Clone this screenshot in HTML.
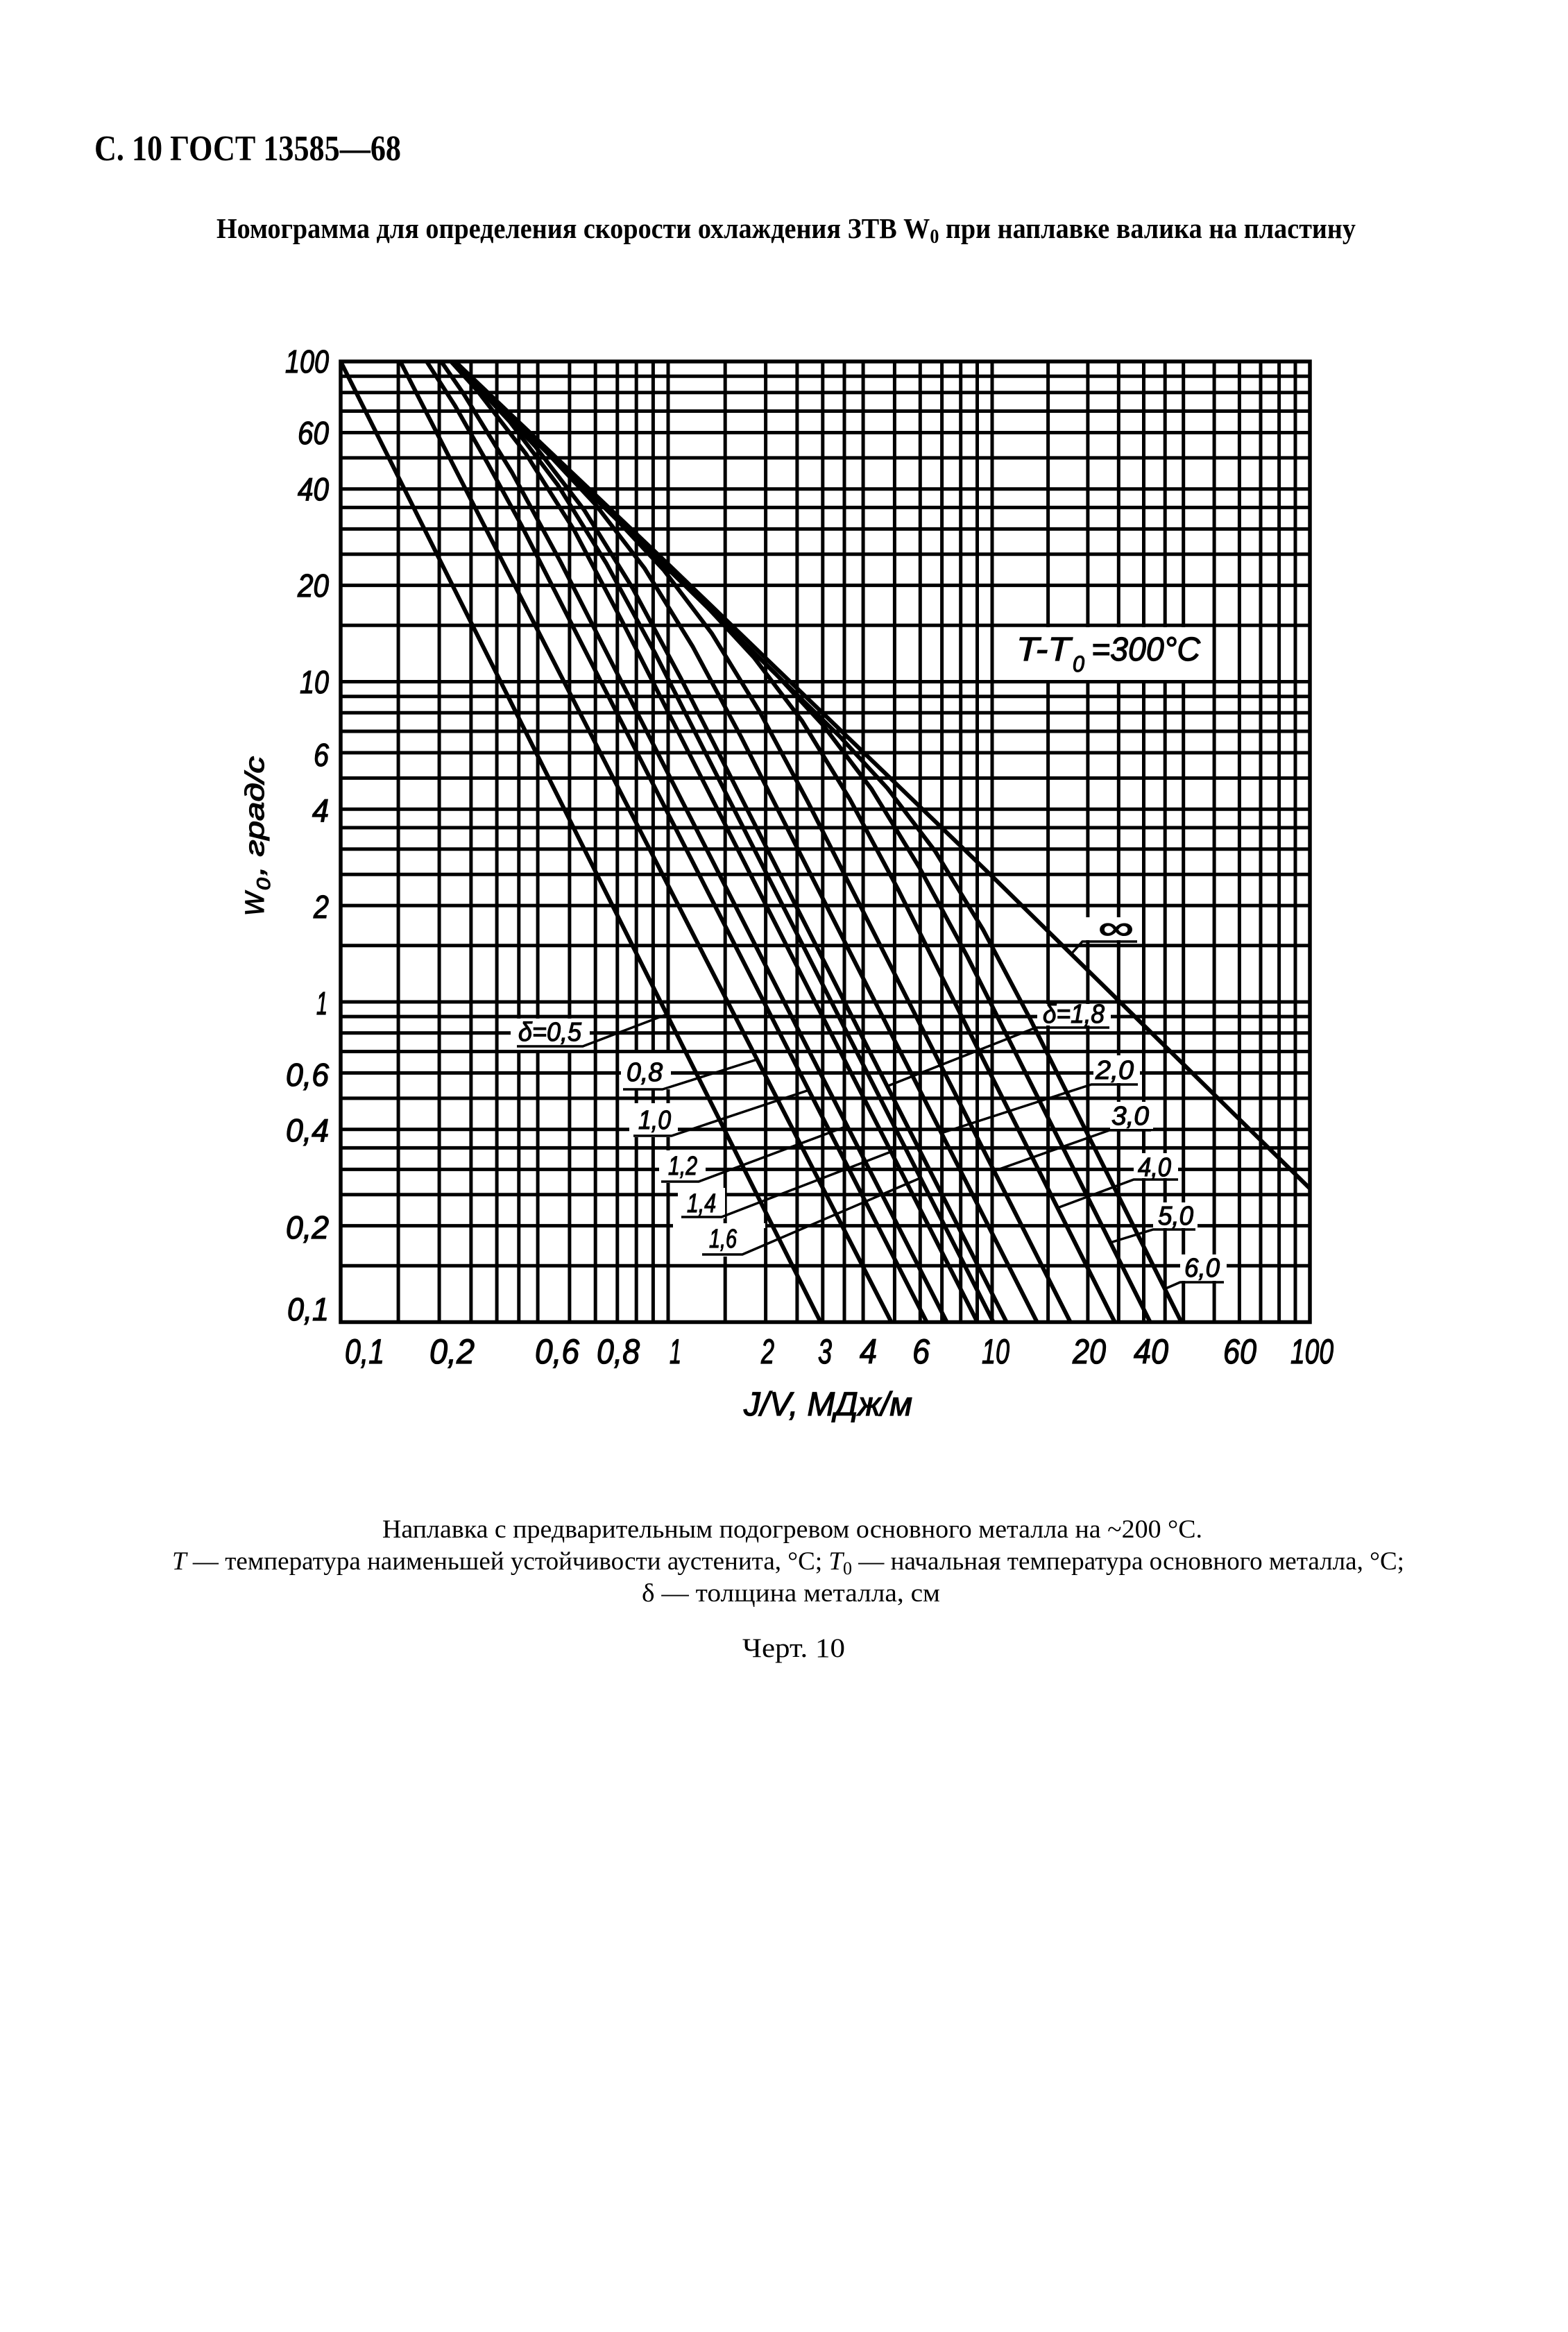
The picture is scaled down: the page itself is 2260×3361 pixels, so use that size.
<!DOCTYPE html>
<html><head><meta charset="utf-8">
<style>html,body{margin:0;padding:0;background:#fff}svg{display:block}</style>
</head><body>
<svg width="2260" height="3361" viewBox="0 0 2260 3361" xmlns="http://www.w3.org/2000/svg">
<rect width="2260" height="3361" fill="#fff"/>
<defs><clipPath id="c"><rect x="491" y="521" width="1397" height="1384.5"/></clipPath></defs>

<!-- header -->
<text x="136" y="231" font-family="Liberation Serif, DejaVu Serif, serif" font-weight="bold" font-size="52" textLength="442" lengthAdjust="spacingAndGlyphs">С. 10 ГОСТ 13585—68</text>
<text x="312" y="343" font-family="Liberation Serif, DejaVu Serif, serif" font-weight="bold" font-size="41" textLength="1642" lengthAdjust="spacingAndGlyphs">Номограмма для определения скорости охлаждения ЗТВ W<tspan font-size="28" dy="7">0</tspan><tspan dy="-7"> при наплавке валика на пластину</tspan></text>

<!-- grid -->
<g stroke="#000" stroke-width="5" fill="none">
<path d="M574.1 521V1905.5M633.1 521V1905.5M678.9 521V1905.5M716.1 521V1905.5M747.8 521V1905.5M775.1 521V1905.5M820.9 521V1905.5M858.2 521V1905.5M889.8 521V1905.5M917.2 521V1905.5M941.4 521V1905.5M963 521V1905.5M1045.2 521V1905.5M1103.6 521V1905.5M1148.9 521V1905.5M1185.8 521V1905.5M1217 521V1905.5M1244.1 521V1905.5M1289.4 521V1905.5M1326.3 521V1905.5M1357.6 521V1905.5M1384.7 521V1905.5M1408.5 521V1905.5M1430 521V1905.5M1510.6 521V1905.5M1567.9 521V1905.5M1612.3 521V1905.5M1648.5 521V1905.5M1679.2 521V1905.5M1705.7 521V1905.5M1750.1 521V1905.5M1786.4 521V1905.5M1817 521V1905.5M1843.6 521V1905.5M1867 521V1905.5"/>
<path d="M491 542.2H1888M491 565.8H1888M491 592.5H1888M491 623.5H1888M491 659.9H1888M491 704.7H1888M491 731.4H1888M491 762.4H1888M491 798.8H1888M491 843.6H1888M491 901.3H1888M491 982.5H1888M491 1003.7H1888M491 1027.3H1888M491 1054H1888M491 1084.9H1888M491 1121.4H1888M491 1166.2H1888M491 1192.9H1888M491 1223.8H1888M491 1260.3H1888M491 1305.1H1888M491 1362.7H1888M491 1444H1888M491 1465.1H1888M491 1488.7H1888M491 1515.5H1888M491 1546.4H1888M491 1582.9H1888M491 1627.7H1888M491 1654.4H1888M491 1685.4H1888M491 1721.8H1888M491 1766.6H1888M491 1824.3H1888"/>
</g>

<!-- white label areas -->
<g fill="#fff">
<rect x="1433" y="904" width="314" height="76"/>
<rect x="736" y="1468" width="114" height="45"/>
<rect x="895" y="1518" width="72" height="52"/>
<rect x="907" y="1590" width="70" height="49"/>
<rect x="950" y="1658" width="67" height="47"/>
<rect x="977" y="1712" width="68" height="44"/>
<rect x="1000" y="1763" width="75" height="48"/>
<rect x="970" y="1763" width="133" height="7"/>
<rect x="1495" y="1447" width="106" height="31"/>
<rect x="1576" y="1521" width="67" height="40"/>
<rect x="1600" y="1588" width="62" height="39"/>
<rect x="1634" y="1662" width="64" height="36"/>
<rect x="1662" y="1733" width="64" height="37"/>
<rect x="1701" y="1808" width="67" height="38"/>
<rect x="1560" y="1322" width="83" height="33"/>
</g>

<!-- curves -->
<g clip-path="url(#c)" stroke="#000" stroke-width="6" fill="none" stroke-linejoin="round" stroke-linecap="round">
<path d="M491 521L1184 1908"/>
<path d="M577 521L1286 1908"/>
<path d="M615 521L656 585L703 668L751 756L1337 1908"/>
<path d="M636 521L668.5 568L738 681L808 810L1366 1908"/>
<path d="M650 521L688 563L758 654L827.5 764L897 896L1410 1908"/>
<path d="M654 521L665 533L735 608L804 699L874 812L944 941L1433 1908"/>
<path d="M656 521L702 569L772 644L842 735L912 848L981 977L1452 1908"/>
<path d="M656 521L789 653L859 728L929 819L998.5 932L1067.6 1061L1496 1908"/>
<path d="M656 521L887 747L957 822L1026 913L1095 1026L1164 1155L1544 1908"/>
<path d="M656 521L1017.6 873L1087 948L1156 1039L1225 1152L1294 1281L1608 1908"/>
<path d="M656 521L1118 971L1187 1046L1256 1137L1325 1250L1394.5 1379L1659 1908"/>
<path d="M656 521L1210 1061L1279 1136L1348 1227L1417 1340L1485 1469L1704 1908"/>
<path d="M656 521L963 813L1430 1263L1888 1713"/>
</g>

<!-- frame -->
<rect x="491" y="521" width="1397" height="1384.5" fill="none" stroke="#000" stroke-width="5.5"/>

<!-- leaders / underlines -->
<g stroke="#000" stroke-width="3.5" fill="none" stroke-linejoin="round">
<path d="M745 1508H840L961 1462"/>
<path d="M898 1570H955L1091 1527"/>
<path d="M913 1637H968L1166 1571"/>
<path d="M953 1703H1007L1221 1623"/>
<path d="M982 1754H1040L1284 1660"/>
<path d="M1012 1808H1070L1326 1698"/>
<path d="M1599 1481H1493L1280 1565"/>
<path d="M1640 1563H1573L1357 1633"/>
<path d="M1659 1629H1599L1432 1688"/>
<path d="M1698 1700H1634L1524 1741"/>
<path d="M1723 1772H1662L1600 1791"/>
<path d="M1764 1848H1701L1678 1858"/>
<path d="M1639 1357H1560L1543 1376"/>
</g>

<!-- curve labels -->
<g font-family="Liberation Sans, DejaVu Sans, sans-serif" font-style="italic" font-size="38" fill="#000" stroke="#000" stroke-width="1.2">
<text x="747" y="1500" textLength="91" lengthAdjust="spacingAndGlyphs">δ=0,5</text>
<text x="903" y="1558" textLength="52" lengthAdjust="spacingAndGlyphs">0,8</text>
<text x="920" y="1627" textLength="47" lengthAdjust="spacingAndGlyphs">1,0</text>
<text x="963" y="1693" textLength="42" lengthAdjust="spacingAndGlyphs">1,2</text>
<text x="990" y="1747" textLength="42" lengthAdjust="spacingAndGlyphs">1,4</text>
<text x="1022" y="1798" textLength="40" lengthAdjust="spacingAndGlyphs">1,6</text>
<text x="1503" y="1474" textLength="89" lengthAdjust="spacingAndGlyphs">δ=1,8</text>
<text x="1579" y="1555" textLength="55" lengthAdjust="spacingAndGlyphs">2,0</text>
<text x="1602" y="1621" textLength="54" lengthAdjust="spacingAndGlyphs">3,0</text>
<text x="1640" y="1695" textLength="48" lengthAdjust="spacingAndGlyphs">4,0</text>
<text x="1669" y="1765" textLength="51" lengthAdjust="spacingAndGlyphs">5,0</text>
<text x="1707" y="1840" textLength="51" lengthAdjust="spacingAndGlyphs">6,0</text>
<text x="1583" y="1353" font-style="normal" font-size="46" textLength="51" lengthAdjust="spacingAndGlyphs">∞</text>
</g>

<!-- T-T0 label -->
<g font-family="Liberation Sans, DejaVu Sans, sans-serif" font-style="italic" fill="#000" stroke="#000" stroke-width="1.2">
<text x="1465" y="952" font-size="48" textLength="78" lengthAdjust="spacingAndGlyphs">T-T</text>
<text x="1546" y="968" font-size="32" textLength="17" lengthAdjust="spacingAndGlyphs">0</text>
<text x="1573" y="952" font-size="48" textLength="157" lengthAdjust="spacingAndGlyphs">=300°C</text>
</g>

<!-- y tick labels -->
<g font-family="Liberation Sans, DejaVu Sans, sans-serif" font-style="italic" font-size="46" fill="#000" stroke="#000" stroke-width="1.3">
<text x="411" y="537" textLength="63" lengthAdjust="spacingAndGlyphs">100</text>
<text x="429" y="640" textLength="45" lengthAdjust="spacingAndGlyphs">60</text>
<text x="429" y="721" textLength="45" lengthAdjust="spacingAndGlyphs">40</text>
<text x="429" y="860" textLength="45" lengthAdjust="spacingAndGlyphs">20</text>
<text x="432" y="999" textLength="42" lengthAdjust="spacingAndGlyphs">10</text>
<text x="452" y="1104" textLength="22" lengthAdjust="spacingAndGlyphs">6</text>
<text x="450" y="1184" textLength="24" lengthAdjust="spacingAndGlyphs">4</text>
<text x="452" y="1323" textLength="22" lengthAdjust="spacingAndGlyphs">2</text>
<text x="456" y="1462" textLength="16" lengthAdjust="spacingAndGlyphs">1</text>
<text x="412" y="1565" textLength="62" lengthAdjust="spacingAndGlyphs">0,6</text>
<text x="412" y="1645" textLength="62" lengthAdjust="spacingAndGlyphs">0,4</text>
<text x="412" y="1785" textLength="62" lengthAdjust="spacingAndGlyphs">0,2</text>
<text x="414" y="1903" textLength="60" lengthAdjust="spacingAndGlyphs">0,1</text>
</g>

<!-- x tick labels -->
<g font-family="Liberation Sans, DejaVu Sans, sans-serif" font-style="italic" font-size="50" fill="#000" stroke="#000" stroke-width="1.3">
<text x="497" y="1965" textLength="57" lengthAdjust="spacingAndGlyphs">0,1</text>
<text x="619" y="1965" textLength="65" lengthAdjust="spacingAndGlyphs">0,2</text>
<text x="771" y="1965" textLength="64" lengthAdjust="spacingAndGlyphs">0,6</text>
<text x="860" y="1965" textLength="62" lengthAdjust="spacingAndGlyphs">0,8</text>
<text x="965" y="1965" textLength="17" lengthAdjust="spacingAndGlyphs">1</text>
<text x="1097" y="1965" textLength="19" lengthAdjust="spacingAndGlyphs">2</text>
<text x="1179" y="1965" textLength="20" lengthAdjust="spacingAndGlyphs">3</text>
<text x="1239" y="1965" textLength="25" lengthAdjust="spacingAndGlyphs">4</text>
<text x="1315" y="1965" textLength="25" lengthAdjust="spacingAndGlyphs">6</text>
<text x="1415" y="1965" textLength="40" lengthAdjust="spacingAndGlyphs">10</text>
<text x="1546" y="1965" textLength="48" lengthAdjust="spacingAndGlyphs">20</text>
<text x="1634" y="1965" textLength="50" lengthAdjust="spacingAndGlyphs">40</text>
<text x="1763" y="1965" textLength="48" lengthAdjust="spacingAndGlyphs">60</text>
<text x="1860" y="1965" textLength="62" lengthAdjust="spacingAndGlyphs">100</text>
<text x="1072" y="2040" font-size="48" textLength="243" lengthAdjust="spacingAndGlyphs">J/V, МДж/м</text>
</g>

<!-- y axis title -->
<g transform="translate(380,1320) rotate(-90)" font-family="Liberation Sans, DejaVu Sans, sans-serif" font-style="italic" fill="#000" stroke="#000" stroke-width="1.2">
<text x="0" y="0" font-size="38" textLength="34" lengthAdjust="spacingAndGlyphs">W</text>
<text x="37" y="9" font-size="27" textLength="18" lengthAdjust="spacingAndGlyphs">0</text>
<text x="58" y="0" font-size="38" textLength="172" lengthAdjust="spacingAndGlyphs">, град/с</text>
</g>

<!-- bottom notes -->
<g font-family="Liberation Serif, DejaVu Serif, serif" font-size="37" fill="#000">
<text x="551" y="2216" textLength="1182" lengthAdjust="spacingAndGlyphs">Наплавка с предварительным подогревом основного металла на ~200 °С.</text>
<text x="248" y="2262" textLength="1776" lengthAdjust="spacingAndGlyphs"><tspan font-style="italic">T</tspan> — температура наименьшей устойчивости аустенита, °С; <tspan font-style="italic">T</tspan><tspan font-size="26" dy="7">0</tspan><tspan dy="-7"> — начальная температура основного металла, °С;</tspan></text>
<text x="925" y="2308" textLength="430" lengthAdjust="spacingAndGlyphs">δ — толщина металла, см</text>
<text x="1070" y="2388" font-size="39" textLength="148" lengthAdjust="spacingAndGlyphs">Черт. 10</text>
</g>
</svg>
</body></html>
